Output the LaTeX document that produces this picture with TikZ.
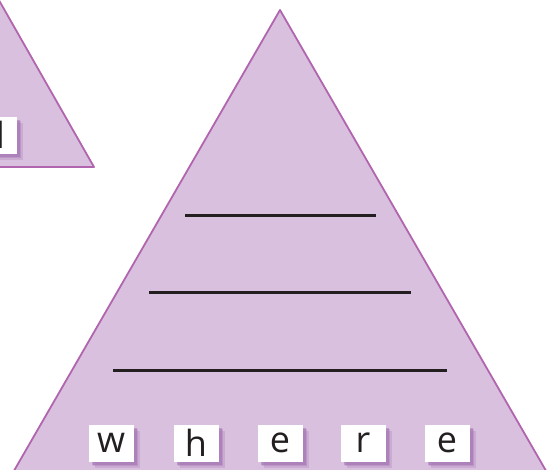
\documentclass[tikz,border=0pt]{standalone}
\usepackage{fontspec}
\setmainfont{Open Sans}
\usetikzlibrary{shadows}
\definecolor{trifill}{HTML}{D9C0DE}
\definecolor{triedge}{HTML}{B065AE}
\definecolor{shad}{HTML}{A070B2}
\definecolor{ink}{HTML}{231F20}
\tikzset{
  tri/.style={fill=trifill, draw=triedge, line width=1.8pt, line join=round},
  rule/.style={draw=ink, line width=3pt},
  letterbox/.style={fill=white, minimum width=45pt, minimum height=37pt, inner sep=0pt,
    font=\fontsize{36}{36}\selectfont, text=ink,
    general shadow={fill=shad, opacity=0.25, shadow xshift=6pt, shadow yshift=-6pt},
    general shadow={fill=shad, opacity=0.35, shadow xshift=4.5pt, shadow yshift=-4.5pt},
    general shadow={fill=shad, opacity=0.5, shadow xshift=3pt, shadow yshift=-3pt}}
}
\begin{document}
\begin{tikzpicture}[x=1pt,y=-1pt]
\useasboundingbox (0,0) rectangle (551,469);
\clip (0,0) rectangle (551,469);
% small triangle
\draw[tri] (-4,-5) -- (94,167) -- (-120,167) -- cycle;
% big triangle
\draw[tri] (280,10) -- (560,495) -- (0,495) -- cycle;
% rules
\coordinate (l1a) at (185,215.5); \coordinate (l1b) at (376,215.5);
\coordinate (l2a) at (149,292.5); \coordinate (l2b) at (411,292.5);
\coordinate (l3a) at (113,370.5); \coordinate (l3b) at (447,370.5);
\draw[rule] (l1a) -- (l1b);
\draw[rule] (l2a) -- (l2b);
\draw[rule] (l3a) -- (l3b);
% letter boxes
\node[letterbox] (d) at (-6,135) {d};
\node[letterbox] (w) at (111,443) {w};
\node[letterbox] (h) at (196,443) {\raisebox{-5pt}{h}};
\node[letterbox] (e1) at (280,443) {e};
\node[letterbox] (r) at (363,443) {r};
\node[letterbox] (e2) at (447,443) {e};
\end{tikzpicture}
\end{document}
